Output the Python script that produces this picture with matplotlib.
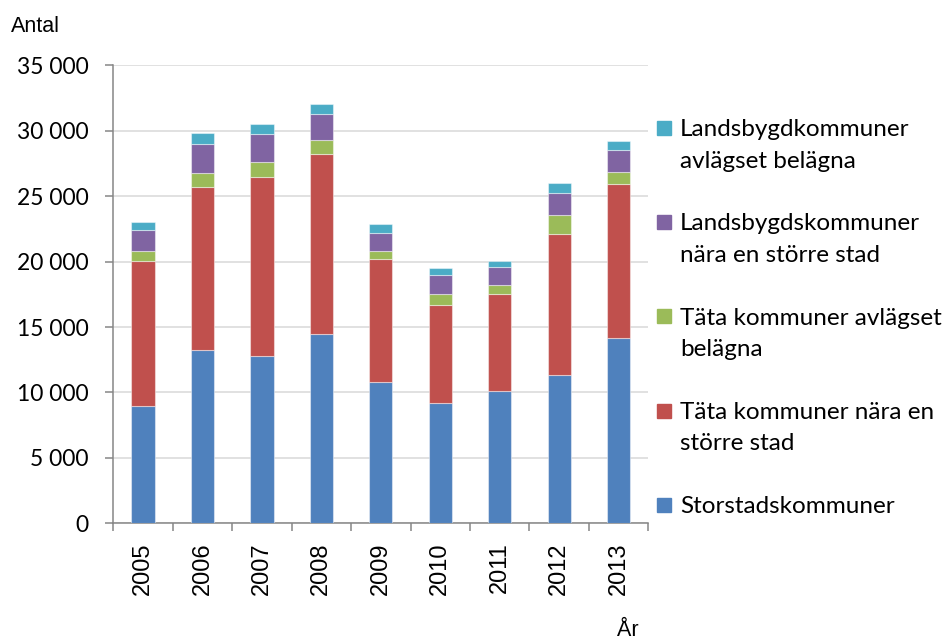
import matplotlib.pyplot as plt
from matplotlib.patches import Rectangle
from matplotlib.ticker import FuncFormatter, FixedLocator

years = ["2005", "2006", "2007", "2008", "2009", "2010", "2011", "2012", "2013"]

storstad = [8950, 13230, 12770, 14500, 10830, 9200, 10090, 11340, 14140]
tata_nara = [11100, 12460, 13710, 13740, 9380, 7470, 7460, 10730, 11820]
tata_avl = [790, 1070, 1150, 1020, 590, 890, 690, 1480, 890]
lands_nara = [1560, 2220, 2090, 2020, 1380, 1430, 1330, 1680, 1660]
lands_avl = [640, 840, 820, 790, 660, 540, 500, 770, 710]

series = [storstad, tata_nara, tata_avl, lands_nara, lands_avl]
labels = ["Storstadskommuner",
          "Täta kommuner nära en\nstörre stad",
          "Täta kommuner avlägset\nbelägna",
          "Landsbygdskommuner\nnära en större stad",
          "Landsbygdkommuner\navlägset belägna"]
colors = ["#4F81BD", "#C0504D", "#9BBB59", "#8064A2", "#4BACC6"]

W, H = 953, 641
fig = plt.figure(figsize=(W / 100, H / 100), dpi=100)
ax = fig.add_axes([113.3 / W, 1 - 523.3 / H, (648.3 - 113.3) / W, (523.3 - 65.3) / H])

x = list(range(len(years)))
bottom = [0] * len(years)
for vals, col in zip(series, colors):
    ax.bar(x, vals, width=0.39, bottom=bottom, color=col,
           edgecolor=(1, 1, 1, 0.45), linewidth=0.8, zorder=3)
    bottom = [b + v for b, v in zip(bottom, vals)]

ax.set_xlim(-0.5, len(years) - 0.5)
ax.set_ylim(0, 35000)
ax.set_yticks(range(0, 35001, 5000))
ax.yaxis.set_major_formatter(FuncFormatter(lambda v, p: f"{v:,.0f}".replace(",", " ")))
ax.grid(axis="y", color="#D9D9D9", linewidth=1.1, zorder=0)

for s in ["top", "right"]:
    ax.spines[s].set_visible(False)
for s in ["left", "bottom"]:
    ax.spines[s].set_color("#868686")
    ax.spines[s].set_linewidth(1.1)

ax.set_xticks(x)
ax.set_xticklabels(years, rotation=90, fontsize=17, family="Liberation Sans")
ax.xaxis.set_minor_locator(FixedLocator([i - 0.5 for i in range(len(years) + 1)]))
ax.tick_params(axis="x", which="major", length=0, pad=13.5)
ax.tick_params(axis="x", which="minor", length=5.5, width=1.1, color="#868686")
ax.tick_params(axis="y", length=5.5, width=1.1, color="#868686", pad=12,
               labelsize=16.5)
for t in ax.get_yticklabels():
    t.set_family("Lato")

fig.text(11 / W, 1 - 31.5 / H, "Antal", fontsize=15.5, family="Liberation Sans",
         va="baseline", ha="left")
fig.text(617 / W, 1 - 636 / H, "År", fontsize=15.5, family="Liberation Sans",
         va="baseline", ha="left")

# legend, drawn top-down in reverse series order
for i, (lab, col) in enumerate(zip(labels[::-1], colors[::-1])):
    base = 136 + i * 94.3
    fig.add_artist(Rectangle((657 / W, 1 - (base - 1.3) / H), 14.5 / W, 14 / H,
                             transform=fig.transFigure, color=col))
    for j, line in enumerate(lab.split("\n")):
        fig.text(680 / W, 1 - (base + j * 31.5) / H, line, fontsize=17.5,
                 family="Lato", va="baseline", ha="left")

fig.savefig("out.png", dpi=100)
